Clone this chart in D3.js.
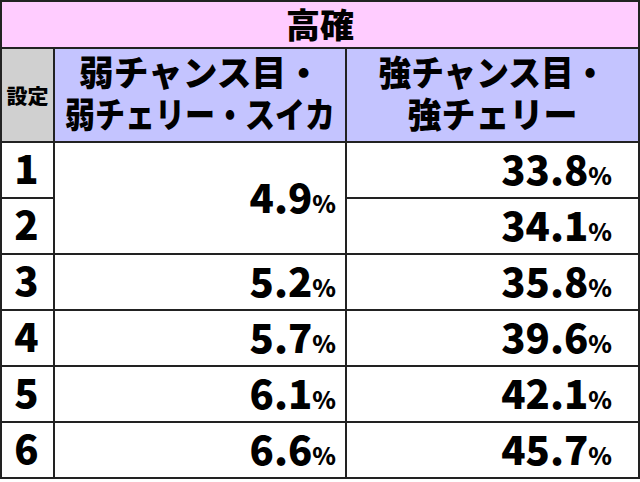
<!DOCTYPE html>
<html><head><meta charset="utf-8">
<script src="https://cdn.jsdelivr.net/npm/d3@7"></script>
<style>body{margin:0;background:#fff}</style>
</head><body>
<script>
var title = '高確';
var headers = ['設定', ['弱チャンス目・', '弱チェリー・スイカ'], ['強チャンス目・', '強チェリー']];
var settings = ['1','2','3','4','5','6'];
var weak = [4.9, 4.9, 5.2, 5.7, 6.1, 6.6];   // rows 1-2 share one cell
var strong = [33.8, 34.1, 35.8, 39.6, 42.1, 45.7];

var width = 640, height = 482;
var svg = d3.select('body').append('svg').attr('width', width).attr('height', height);
var font = '"Noto Sans CJK JP", sans-serif';
var line = '#222';

var colX = [1, 54, 346, 639];
var y = d3.scaleLinear().domain([0, settings.length]).range([142, 478]);

// title
svg.append('rect').attr('x', 1).attr('y', 1).attr('width', 638).attr('height', 47)
	.attr('fill', '#ffccff').attr('stroke', line).attr('stroke-width', 2);
svg.append('text').attr('x', 320).attr('y', 38).attr('text-anchor', 'middle')
	.attr('font-family', font).attr('font-weight', 900).attr('font-size', 34).text(title);

// header row (line widths)
var hFill = ['#d0d0d0', '#c4c4ff', '#c4c4ff'];
var hLen = [null, [242, 270], [228, 170]];
headers.forEach(function(h, i) {
	svg.append('rect').attr('x', colX[i]).attr('y', 48).attr('width', colX[i+1]-colX[i]).attr('height', 94)
		.attr('fill', hFill[i]).attr('stroke', line).attr('stroke-width', 2);
	var cx = (colX[i] + colX[i+1]) / 2;
	if (typeof h === 'string') {
		svg.append('text').attr('x', cx).attr('y', 104).attr('text-anchor', 'middle')
			.attr('font-family', font).attr('font-weight', 900).attr('font-size', 20)
			.attr('textLength', 42).attr('lengthAdjust', 'spacingAndGlyphs').text(h);
	} else {
		h.forEach(function(t, k) {
			svg.append('text').attr('x', cx).attr('y', 86 + k*42).attr('text-anchor', 'middle')
				.attr('font-family', font).attr('font-weight', 900).attr('font-size', 35)
				.attr('textLength', hLen[i][k]).attr('lengthAdjust', 'spacingAndGlyphs').text(t);
		});
	}
});

function pct(g, x, yy, v) {
	var t = g.append('text').attr('x', x).attr('y', yy).attr('text-anchor', 'end')
		.attr('font-family', font).attr('font-weight', 900);
	t.append('tspan').attr('font-size', 40).text(v.toFixed(1));
	t.append('tspan').attr('font-size', 24).text('%');
}

var g = svg.append('g');
settings.forEach(function(s, i) {
	var y0 = y(i), y1 = y(i+1), mid = (y0 + y1) / 2;
	g.append('rect').attr('x', colX[0]).attr('y', y0).attr('width', colX[1]-colX[0]).attr('height', y1-y0)
		.attr('fill', '#fff').attr('stroke', line).attr('stroke-width', 2);
	g.append('text').attr('x', (colX[0]+colX[1])/2 - 1).attr('y', mid + 14).attr('text-anchor', 'middle')
		.attr('font-family', font).attr('font-weight', 900).attr('font-size', 40).text(s);
	g.append('rect').attr('x', colX[2]).attr('y', y0).attr('width', colX[3]-colX[2]).attr('height', y1-y0)
		.attr('fill', '#fff').attr('stroke', line).attr('stroke-width', 2);
	pct(g, 612, mid + 15, strong[i]);
	if (i === 1) return;
	var span = i === 0 ? 2 : 1;
	var ye = y(i + span);
	g.append('rect').attr('x', colX[1]).attr('y', y0).attr('width', colX[2]-colX[1]).attr('height', ye-y0)
		.attr('fill', '#fff').attr('stroke', line).attr('stroke-width', 2);
	pct(g, 336, (y0 + ye) / 2 + 15, weak[i]);
});
</script>
</body></html>
